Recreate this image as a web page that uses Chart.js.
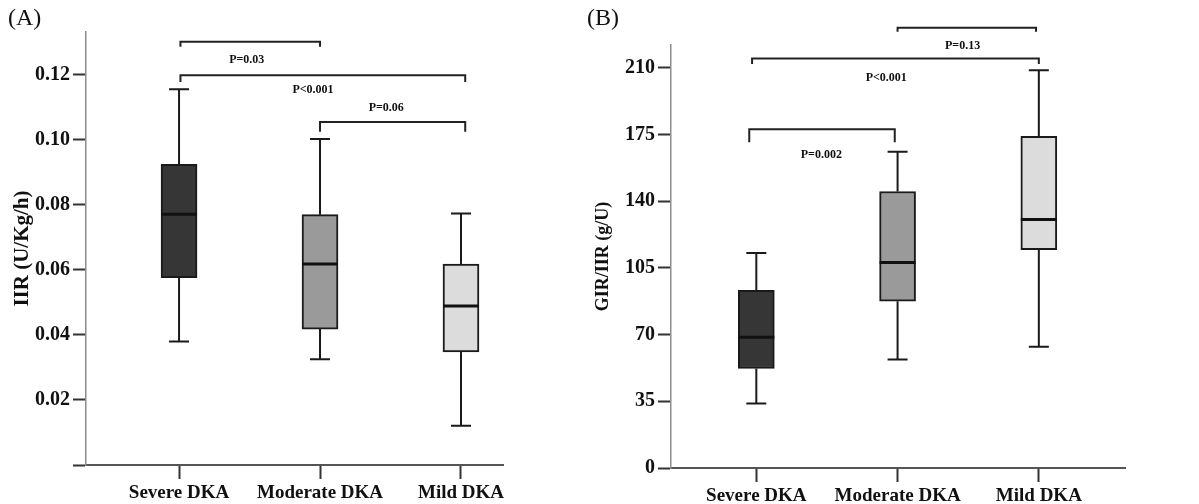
<!DOCTYPE html>
<html>
<head>
<meta charset="utf-8">
<script src="https://cdn.jsdelivr.net/npm/chart.js@4/dist/chart.umd.min.js"></script>
<style>
  body { margin: 0; background: #fff; }
  #wrap { position: relative; width: 1199px; height: 504px; }
  .panel { position: absolute; top: 0; height: 504px; }
  #panelA { left: 0; width: 590px; }
  #panelB { left: 590px; width: 609px; }
  .tag { position: absolute; top: 4px; font: 24px "Liberation Serif", serif; color: #111; }
</style>
</head>
<body>
<div id="wrap">
  <div class="panel" id="panelA"><canvas id="chartA"></canvas></div>
  <div class="panel" id="panelB"><canvas id="chartB"></canvas></div>
  <div class="tag" style="left:8px">(A)</div>
  <div class="tag" style="left:587px">(B)</div>
</div>
<script>
const categories = ["Severe DKA", "Moderate DKA", "Mild DKA"];
const boxColors = ["#363636", "#9a9a9a", "#dcdcdc"];

// (A) insulin infusion rate
const iirMin = [0.038, 0.0325, 0.0121];
const iirQ1 = [0.0576, 0.0418, 0.0348];
const iirMedian = [0.0771, 0.0618, 0.0489];
const iirQ3 = [0.0925, 0.077, 0.0618];
const iirMax = [0.1156, 0.1003, 0.0774];
const iirTicks = [0, 0.02, 0.04, 0.06, 0.08, 0.1, 0.12];

const iirPairFrom = [1.01, 1.01, 2];
const iirPairTo = [2, 3.03, 3.03];
const iirPairLevel = [0.1302, 0.1199, 0.1055];
const iirPairEnd = [0.1287, 0.1178, 0.1025];
const iirPLabels = ["P=0.03", "P<0.001", "P=0.06"];
const iirPLabelX = [1.48, 1.95, 2.47];
const iirPLabelY = [0.1246, 0.1154, 0.1098];

// (B) GIR/IIR ratio
const ratioMin = [33.9, 56.9, 63.7];
const ratioQ1 = [52.2, 87.5, 114.6];
const ratioMedian = [68.6, 107.8, 130.4];
const ratioQ3 = [93.2, 145.1, 174.1];
const ratioMax = [112.8, 166, 208.8];
const ratioTicks = [0, 35, 70, 105, 140, 175, 210];

const ratioPairFrom = [2, 0.97, 0.95];
const ratioPairTo = [2.98, 3, 1.98];
const ratioPairLevel = [231.1, 214.9, 177.8];
const ratioPairEnd = [229, 212, 171];
const ratioPLabels = ["P=0.13", "P<0.001", "P=0.002"];
const ratioPLabelX = [2.46, 1.92, 1.46];
const ratioPLabelY = [221.7, 204.6, 164.3];

const serif = "'Liberation Serif', 'Times New Roman', serif";

// whiskers, caps and medians on top of the floating bars
const boxPlot = {
  id: "boxPlot",
  afterDatasetsDraw(chart, args, opts) {
    const { ctx, scales: { x, y } } = chart;
    ctx.save();
    ctx.strokeStyle = "#1a1a1a";
    opts.low.forEach((lo, i) => {
      const cx = x.getPixelForValue(i + 1);
      ctx.lineWidth = 2;
      ctx.beginPath();
      ctx.moveTo(cx, y.getPixelForValue(opts.q3[i]));
      ctx.lineTo(cx, y.getPixelForValue(opts.high[i]));
      ctx.moveTo(cx - opts.cap, y.getPixelForValue(opts.high[i]));
      ctx.lineTo(cx + opts.cap, y.getPixelForValue(opts.high[i]));
      ctx.moveTo(cx, y.getPixelForValue(opts.q1[i]));
      ctx.lineTo(cx, y.getPixelForValue(lo));
      ctx.moveTo(cx - opts.cap, y.getPixelForValue(lo));
      ctx.lineTo(cx + opts.cap, y.getPixelForValue(lo));
      ctx.stroke();
      ctx.lineWidth = 3;
      ctx.strokeStyle = "#111";
      ctx.beginPath();
      ctx.moveTo(cx - opts.half, y.getPixelForValue(opts.median[i]));
      ctx.lineTo(cx + opts.half, y.getPixelForValue(opts.median[i]));
      ctx.stroke();
      ctx.strokeStyle = "#1a1a1a";
    });
    ctx.restore();
  },
};

// significance brackets with p values
const brackets = {
  id: "brackets",
  afterDatasetsDraw(chart, args, opts) {
    const { ctx, scales: { x, y } } = chart;
    ctx.save();
    ctx.strokeStyle = "#222";
    ctx.lineWidth = 2;
    ctx.fillStyle = "#111";
    ctx.font = "bold 12px " + serif;
    ctx.textAlign = "center";
    ctx.textBaseline = "middle";
    opts.from.forEach((f, i) => {
      const x0 = x.getPixelForValue(f);
      const x1 = x.getPixelForValue(opts.to[i]);
      const yl = y.getPixelForValue(opts.level[i]);
      const ye = y.getPixelForValue(opts.end[i]);
      ctx.beginPath();
      ctx.moveTo(x0, ye);
      ctx.lineTo(x0, yl);
      ctx.lineTo(x1, yl);
      ctx.lineTo(x1, ye);
      ctx.stroke();
      ctx.fillText(opts.labels[i], x.getPixelForValue(opts.labelX[i]), y.getPixelForValue(opts.labelY[i]));
    });
    ctx.restore();
  },
};

function makePanel(canvasId, p) {
  const ctx = document.getElementById(canvasId).getContext("2d");
  new Chart(ctx, {
    type: "bar",
    data: {
      datasets: [
        {
          data: categories.map((c, i) => ({ x: i + 1, y: [p.q1[i], p.q3[i]] })),
          backgroundColor: boxColors,
          borderColor: "#1a1a1a",
          borderWidth: 2,
          borderSkipped: false,
          barThickness: 36,
        },
      ],
    },
    options: {
      responsive: true,
      maintainAspectRatio: false,
      animation: false,
      layout: { padding: { top: p.top, right: p.right, left: 0, bottom: 0 } },
      plugins: {
        legend: { display: false },
        tooltip: { enabled: false },
        boxPlot: {
          low: p.low, q1: p.q1, median: p.median, q3: p.q3, high: p.high,
          cap: 10, half: 18,
        },
        brackets: p.brackets,
      },
      scales: {
        x: {
          type: "linear",
          offset: false,
          min: p.xMin,
          max: p.xMax,
          afterFit: (scale) => { scale.height = p.xHeight; },
          afterBuildTicks: (scale) => {
            scale.ticks = categories.map((c, i) => ({ value: i + 1 }));
          },
          border: { display: true, color: "#555", width: 2 },
          grid: { offset: false, drawOnChartArea: false, tickLength: 14, tickColor: "#333", tickWidth: 2 },
          ticks: {
            autoSkip: false,
            maxRotation: 0,
            padding: 3,
            color: "#111",
            font: { family: serif, size: 19, weight: "bold" },
            callback: (v) => categories[v - 1],
          },
        },
        y: {
          min: 0,
          max: p.yMax,
          afterFit: (scale) => { scale.width = p.yWidth; },
          afterBuildTicks: (scale) => {
            scale.ticks = p.ticks.map((v) => ({ value: v }));
          },
          border: { display: true, color: "#8c8c8c", width: 1.5 },
          grid: { drawOnChartArea: false, tickLength: 13, tickColor: "#333", tickWidth: 2 },
          ticks: {
            padding: 3,
            color: "#111",
            font: { family: serif, size: 20, weight: "bold" },
            callback: p.tickLabel,
          },
          title: {
            display: true,
            text: p.title,
            color: "#111",
            padding: { top: p.titlePad, bottom: 0 },
            font: { family: serif, size: p.titleSize, weight: "bold" },
          },
        },
      },
    },
    plugins: [boxPlot, brackets],
  });
}

makePanel("chartA", {
  low: iirMin, q1: iirQ1, median: iirMedian, q3: iirQ3, high: iirMax,
  ticks: iirTicks,
  tickLabel: (v) => (v === 0 ? "" : v.toFixed(2)),
  yMax: 0.1332,
  xMin: 0.34, xMax: 3.298,
  top: 32, right: 87, yWidth: 86, xHeight: 39,
  title: "IIR (U/Kg/h)", titleSize: 21, titlePad: 10,
  brackets: {
    from: iirPairFrom, to: iirPairTo, level: iirPairLevel, end: iirPairEnd,
    labels: iirPLabels, labelX: iirPLabelX, labelY: iirPLabelY,
  },
});

makePanel("chartB", {
  low: ratioMin, q1: ratioQ1, median: ratioMedian, q3: ratioQ3, high: ratioMax,
  ticks: ratioTicks,
  tickLabel: (v) => String(v),
  yMax: 222,
  xMin: 0.396, xMax: 3.61,
  top: 45, right: 74, yWidth: 81, xHeight: 36,
  title: "GIR/IIR (g/U)", titleSize: 18, titlePad: 3,
  brackets: {
    from: ratioPairFrom, to: ratioPairTo, level: ratioPairLevel, end: ratioPairEnd,
    labels: ratioPLabels, labelX: ratioPLabelX, labelY: ratioPLabelY,
  },
});
</script>
</body>
</html>
